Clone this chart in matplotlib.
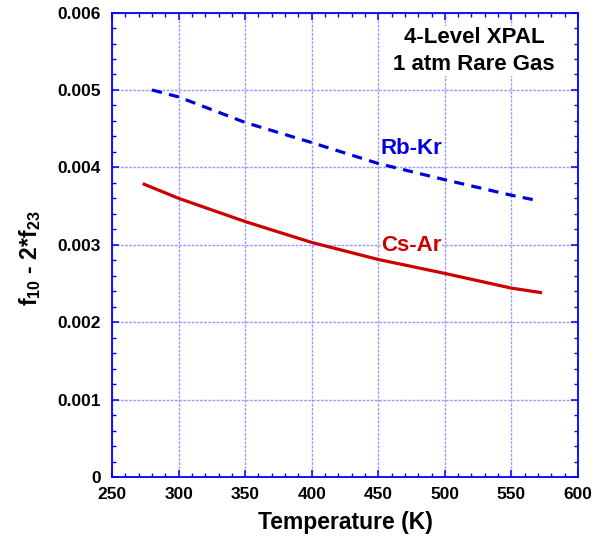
import matplotlib
matplotlib.use("Agg")
import matplotlib.pyplot as plt
from matplotlib.ticker import MultipleLocator, FuncFormatter

# Data
rbkr_T = [280, 300, 350, 400, 450, 500, 550, 570]
rbkr_f = [0.00500, 0.00491, 0.00458, 0.00432, 0.00405, 0.00384, 0.00364, 0.00357]
csar_T = [273, 300, 350, 400, 450, 500, 550, 573]
csar_f = [0.00379, 0.00360, 0.00330, 0.00303, 0.00281, 0.00263, 0.00244, 0.00238]

plt.rcParams['font.family'] = ['Liberation Sans', 'DejaVu Sans']
plt.rcParams['font.weight'] = 'bold'
plt.rcParams['mathtext.fontset'] = 'custom'
plt.rcParams['mathtext.rm'] = 'Liberation Sans:bold'
plt.rcParams['mathtext.bf'] = 'Liberation Sans:bold'
plt.rcParams['mathtext.default'] = 'bf'

fig = plt.figure(figsize=(6.01, 5.46), dpi=100)
ax = fig.add_axes([0.1864, 0.1264, 0.7753, 0.8506])

blue = '#0000dd'
red = '#cc0000'
axcol = '#0000ff'

ax.plot(csar_T, csar_f, color=red, lw=2.3, solid_capstyle='butt')
ax.plot(rbkr_T, rbkr_f, color=blue, lw=2.3, dashes=(3.2, 2.3), dash_capstyle='butt')

ax.set_xlim(250, 600)
ax.set_ylim(0, 0.006)
ax.xaxis.set_major_locator(MultipleLocator(50))
ax.xaxis.set_minor_locator(MultipleLocator(10))
ax.yaxis.set_major_locator(MultipleLocator(0.001))
ax.yaxis.set_minor_locator(MultipleLocator(0.0002))
ax.yaxis.set_major_formatter(FuncFormatter(lambda v, p: '0' if abs(v) < 1e-12 else f'{v:.3f}'))

ax.grid(True, which='major', color='#9999ff', lw=1.0, ls=(0, (2, 1)))
ax.set_axisbelow(True)
for s in ax.spines.values():
    s.set_color(axcol)
    s.set_linewidth(1.3)
ax.tick_params(which='both', direction='in', top=True, right=True, color=axcol)
ax.tick_params(which='major', length=5, width=1.1, labelsize=12.5)
ax.tick_params(axis='y', which='major', pad=8)
ax.tick_params(axis='x', which='major', pad=7)
ax.tick_params(which='minor', length=3, width=1.0)
for lab in ax.get_xticklabels() + ax.get_yticklabels():
    lab.set_fontweight('bold')

ax.set_xlabel('Temperature (K)', fontsize=16.5, fontweight='bold', labelpad=7)
ax.set_ylabel(r'f$_{10}$ - 2*f$_{23}$', fontsize=16.5, fontweight='bold')
ax.yaxis.set_label_coords(-0.148, 0.47)

ax.text(522, 0.00550, '4-Level XPAL\n1 atm Rare Gas', ha='center', va='center',
        fontsize=16, fontweight='bold', color='black', linespacing=1.35,
        bbox=dict(facecolor='white', edgecolor='none', pad=1))
ax.text(475, 0.00425, 'Rb-Kr', ha='center', va='center', fontsize=16, fontweight='bold', color=blue,
        bbox=dict(facecolor='white', edgecolor='none', pad=0.5))
ax.text(475, 0.00299, 'Cs-Ar', ha='center', va='center', fontsize=16, fontweight='bold', color=red,
        bbox=dict(facecolor='white', edgecolor='none', pad=0.5))

fig.savefig('out.png', dpi=100)
